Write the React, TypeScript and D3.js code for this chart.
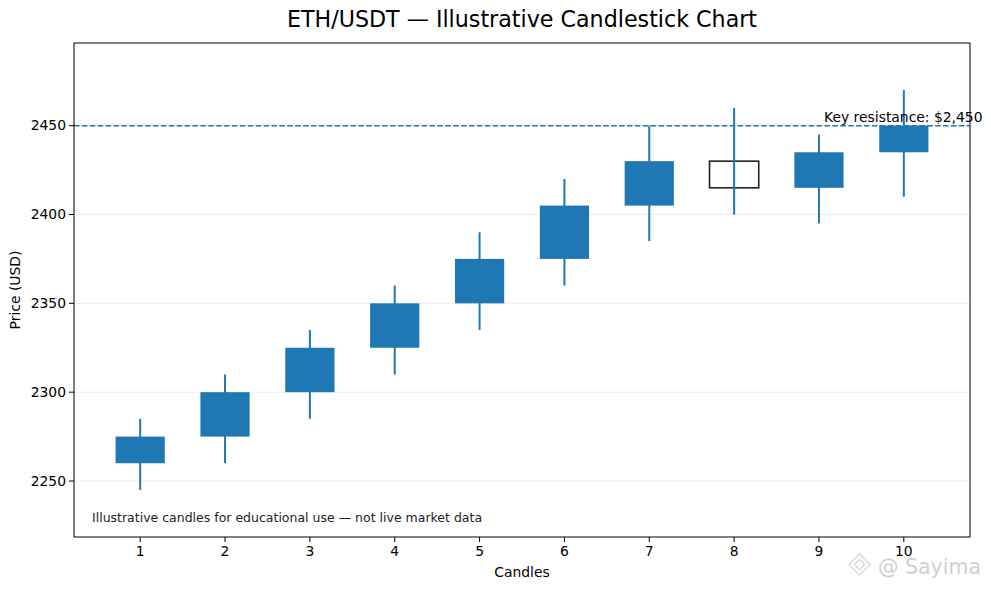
import React from "react"
import * as d3 from "d3"

const candles = [1, 2, 3, 4, 5, 6, 7, 8, 9, 10]
const opens = [2260, 2275, 2300, 2325, 2350, 2375, 2405, 2430, 2415, 2435]
const highs = [2285, 2310, 2335, 2360, 2390, 2420, 2450, 2460, 2445, 2470]
const lows = [2245, 2260, 2285, 2310, 2335, 2360, 2385, 2400, 2395, 2410]
const closes = [2275, 2300, 2325, 2350, 2375, 2405, 2430, 2415, 2435, 2450]
const yTicks = [2250, 2300, 2350, 2400, 2450]
const resistance = 2450

const W = 991
const H = 590
const margin = { top: 43, right: 21, bottom: 53, left: 74 }
const font = "DejaVu Sans, sans-serif"
const blue = "#1f77b4"

export default function App() {
  const x = d3.scaleLinear().domain([0.22, 10.78]).range([margin.left, W - margin.right])
  const y = d3.scaleLinear().domain([2218.5, 2496.5]).range([H - margin.bottom, margin.top])
  const bodyW = x(0.58) - x(0)
  const left = margin.left
  const right = W - margin.right
  const top = margin.top
  const bottom = H - margin.bottom
  const midX = (left + right) / 2

  return (
    <svg width={W} height={H} style={{ position: "absolute", left: 0, top: 0, background: "#fff" }} fontFamily={font}>
      {/* grid */}
      {yTicks.map((t) => (
        <line key={"g" + t} x1={left} x2={right} y1={y(t)} y2={y(t)} stroke="#e6e6e6" strokeWidth={0.8} />
      ))}

      {/* candles */}
      {candles.map((c, i) => {
        const up = closes[i] >= opens[i]
        const yTop = y(Math.max(opens[i], closes[i]))
        const yBot = y(Math.min(opens[i], closes[i]))
        return (
          <g key={c}>
            {up ? (
              <>
                <line x1={x(c)} x2={x(c)} y1={y(highs[i])} y2={y(lows[i])} stroke={blue} strokeWidth={2} />
                <rect x={x(c) - bodyW / 2} y={yTop} width={bodyW} height={yBot - yTop} fill={blue} />
              </>
            ) : (
              <>
                <rect x={x(c) - bodyW / 2} y={yTop} width={bodyW} height={yBot - yTop} fill="none" stroke="#222" strokeWidth={1.6} />
                <line x1={x(c)} x2={x(c)} y1={y(highs[i])} y2={y(lows[i])} stroke={blue} strokeWidth={2} />
              </>
            )}
          </g>
        )
      })}

      {/* resistance */}
      <line x1={left} x2={right} y1={y(resistance)} y2={y(resistance)} stroke={blue} strokeWidth={1.5} strokeDasharray="5.5,2.4" />
      <text x={824} y={y(resistance) - 4} fontSize={13.9} fill="#000">Key resistance: $2,450</text>

      <text x={92} y={522} fontSize={12.5} fill="#222">Illustrative candles for educational use — not live market data</text>

      {/* axes frame */}
      <rect x={left} y={top} width={right - left} height={bottom - top} fill="none" stroke="#000" strokeWidth={1} />

      {/* y ticks */}
      {yTicks.map((t) => (
        <g key={"y" + t}>
          <line x1={left - 5} x2={left} y1={y(t)} y2={y(t)} stroke="#000" strokeWidth={1} />
          <text x={left - 8} y={y(t)} dy="0.35em" textAnchor="end" fontSize={13.9} fill="#000">{t}</text>
        </g>
      ))}

      {/* x ticks */}
      {candles.map((c) => (
        <g key={"x" + c}>
          <line x1={x(c)} x2={x(c)} y1={bottom} y2={bottom + 5} stroke="#000" strokeWidth={1} />
          <text x={x(c)} y={bottom + 19} textAnchor="middle" fontSize={13.9} fill="#000">{c}</text>
        </g>
      ))}

      <text x={midX} y={577} textAnchor="middle" fontSize={13.9} fill="#000">Candles</text>
      <text transform={`translate(20,${(top + bottom) / 2}) rotate(-90)`} textAnchor="middle" fontSize={13.9} fill="#000">Price (USD)</text>

      <text x={midX} y={27} textAnchor="middle" fontSize={22.2} fill="#000">ETH/USDT — Illustrative Candlestick Chart</text>

      {/* watermark */}
      <g opacity={0.5} fill="none" stroke="#bbb" strokeWidth={1.5}>
        <rect x={852} y={557} width={15} height={15} transform="rotate(45 859.5 564.5)" />
        <rect x={856} y={561} width={7} height={7} transform="rotate(45 859.5 564.5)" />
      </g>
      <text x={878} y={574} fontSize={20.5} fill="#c8c8c8" opacity={0.85}>@ Sayima</text>
    </svg>
  )
}
